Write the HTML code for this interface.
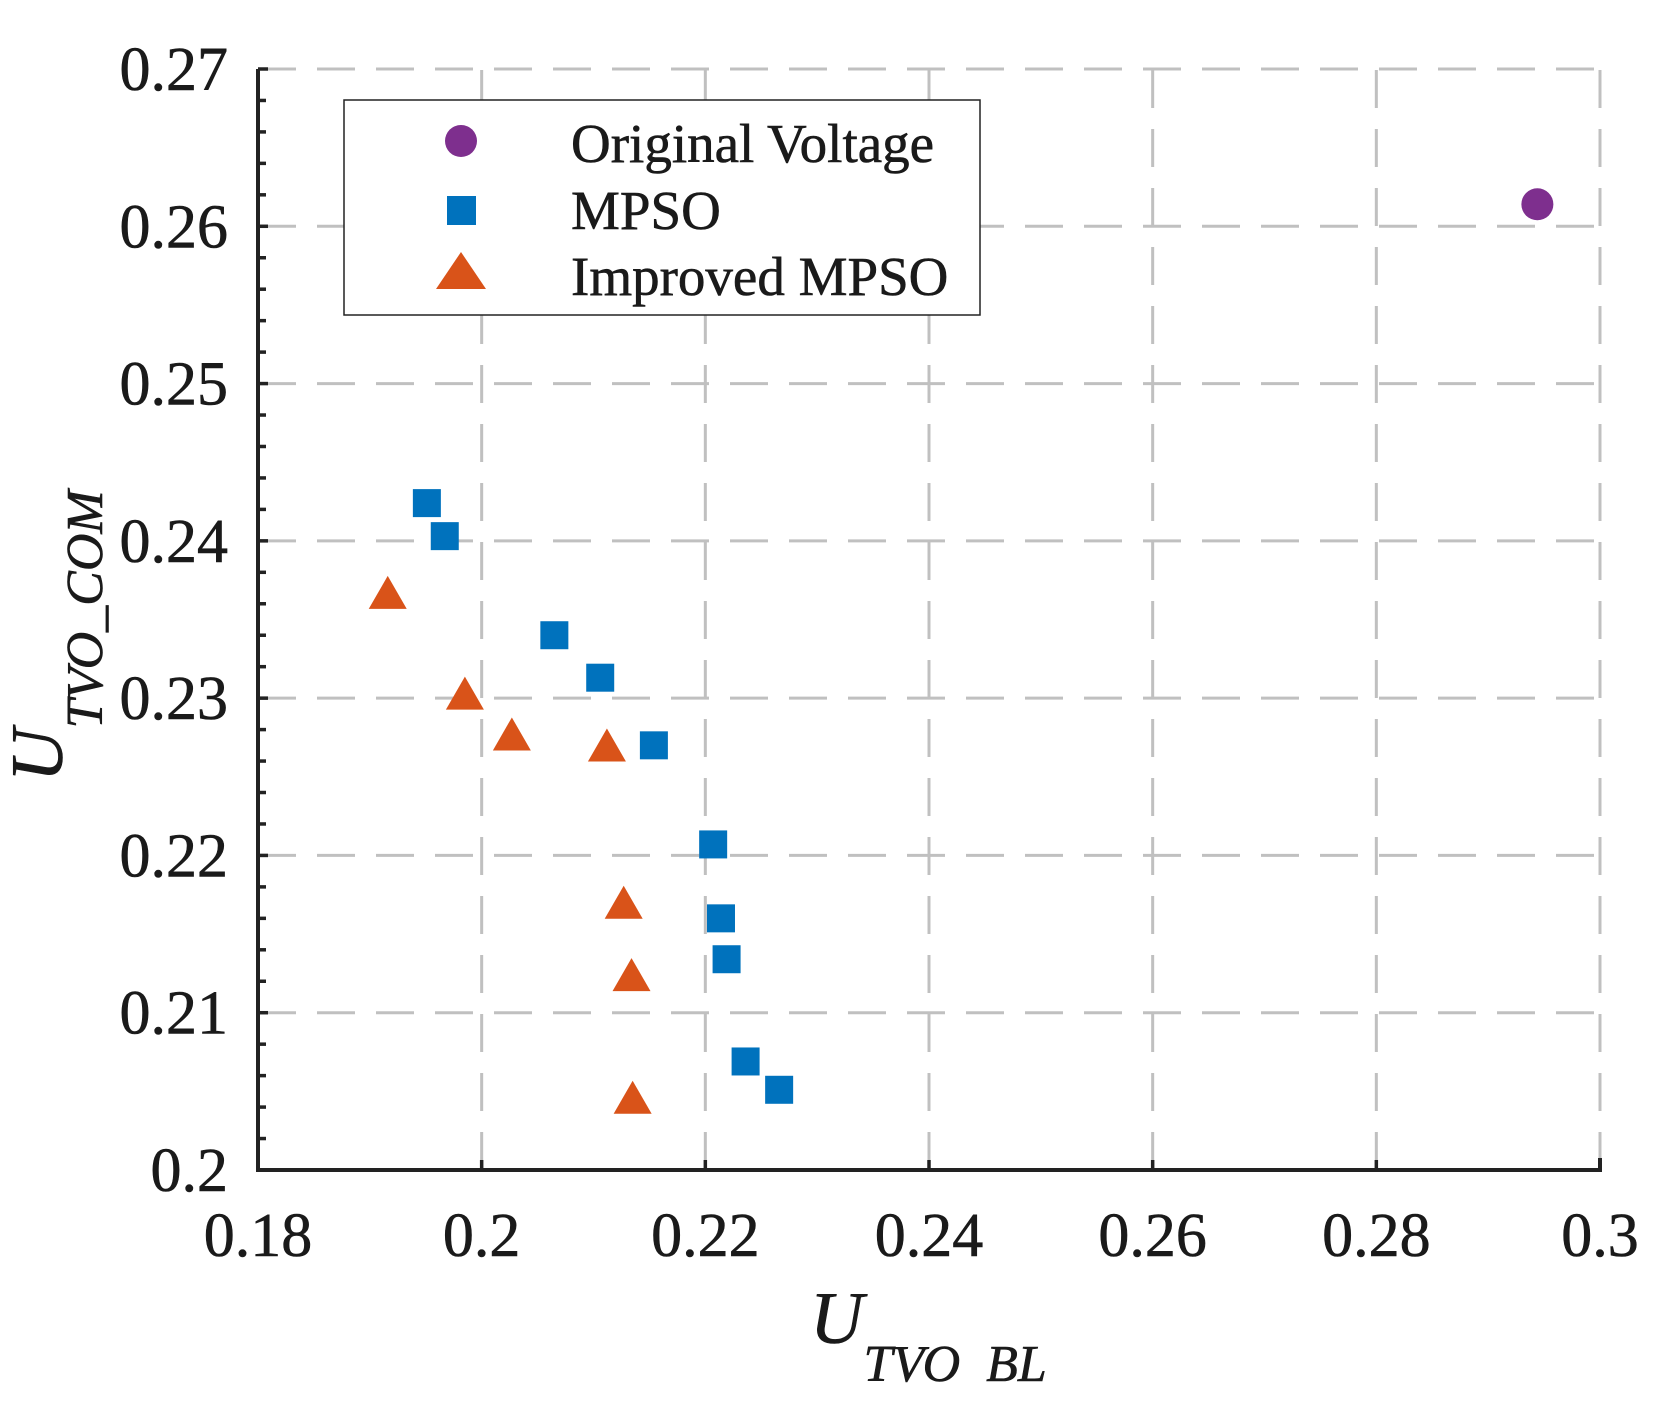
<!DOCTYPE html>
<html><head><meta charset="utf-8"><style>body{margin:0;background:#fff}svg{display:block}text{font-family:"Liberation Serif",serif;fill:#1a1a1a;stroke:#1a1a1a;stroke-width:0.6}</style></head>
<body>
<svg id="chart" width="1659" height="1401" viewBox="0 0 1659 1401">
<g id="grid"></g>
<g id="axes"></g>
<g id="marks"></g>
<text x="810" y="1343" font-size="74" font-style="italic">U<tspan font-size="52" dy="38">TVO<tspan fill="#fff" stroke="#fff">_</tspan>BL</tspan></text>
<text transform="translate(62,782) rotate(-90)" font-size="74" font-style="italic">U<tspan font-size="52" dy="40">TVO_COM</tspan></text>
<g>
<rect x="344" y="100" width="636" height="215" fill="#fff" stroke="#222" stroke-width="1.5"/>
<circle cx="461" cy="141" r="16" fill="#7e2f8e"/>
<text x="571" y="162" font-size="55">Original Voltage</text>
<rect x="447" y="196" width="29" height="29" fill="#0072bd"/>
<text x="571" y="229" font-size="55">MPSO</text>
<polygon points="461,252 436,289 486,289" fill="#d95319"/>
<text x="571" y="295" font-size="55">Improved MPSO</text>
</g>
</svg>
<script>
const xTicks=[0.18,0.2,0.22,0.24,0.26,0.28,0.3];
const xTickLabels=["0.18","0.2","0.22","0.24","0.26","0.28","0.3"];
const yTicks=[0.2,0.21,0.22,0.23,0.24,0.25,0.26,0.27];
const yTickLabels=["0.2","0.21","0.22","0.23","0.24","0.25","0.26","0.27"];
const origX=[0.2944];
const origY=[0.2614];
const mpsoX=[0.1951,0.1967,0.2065,0.2106,0.2154,0.2207,0.2214,0.2219,0.2236,0.2266];
const mpsoY=[0.2424,0.2403,0.2340,0.2313,0.2270,0.2207,0.2160,0.2134,0.2069,0.2051];
const impX=[0.1916,0.1985,0.2027,0.2112,0.2127,0.2134,0.2135];
const impY=[0.2365,0.2301,0.2275,0.2268,0.2168,0.2122,0.2044];
const L=258,R=1600,T=69,B=1170;
const sx=v=>L+(v-0.18)/(0.12)*(R-L);
const sy=v=>B-(v-0.2)/(0.07)*(B-T);
const NS="http://www.w3.org/2000/svg";
function mk(tag,attrs,parent){const e=document.createElementNS(NS,tag);for(const k in attrs)e.setAttribute(k,attrs[k]);parent.appendChild(e);return e;}
const grid=document.getElementById('grid'),axes=document.getElementById('axes'),marks=document.getElementById('marks');
xTicks.forEach((v,i)=>{
  if(i>0){const g=mk('line',{x1:sx(v),x2:sx(v),y1:B,y2:T,stroke:'#c0c0c0','stroke-width':3,'stroke-dasharray':'38,21'},grid);
  
  }
  const t=mk('line',{x1:sx(v),x2:sx(v),y1:B,y2:B-10,stroke:'#222','stroke-width':3.5},axes);
  
  
  const l=mk('text',{x:sx(v),y:B+86,'font-size':62,'text-anchor':'middle'},axes);l.textContent=xTickLabels[i];
  
  
});
yTicks.forEach((v,i)=>{
  if(i>0){const g=mk('line',{x1:L,x2:R,y1:sy(v),y2:sy(v),stroke:'#c0c0c0','stroke-width':3,'stroke-dasharray':'38,21'},grid);
  
  }
  const l=mk('text',{x:228,y:sy(v)+21,'font-size':62,'text-anchor':'end'},axes);l.textContent=yTickLabels[i];
  
  
});
for(let k=0;k<=35;k++){const v=0.2+k*0.002;
  const t=mk('line',{x1:L,x2:L+(k%5===0?10:8),y1:sy(v),y2:sy(v),stroke:'#222','stroke-width':3.5},axes);
  
  }
const ax=mk('path',{d:`M${L},${T} L${L},${B} L${R},${B} L${R},${B-12}`,fill:'none',stroke:'#222','stroke-width':4},axes);


origX.forEach((x,i)=>{const c=mk('circle',{cx:sx(x),cy:sy(origY[i]),r:16,fill:'#7e2f8e'},marks);
  
  });
mpsoX.forEach((x,i)=>{const c=mk('rect',{x:sx(x)-14,y:sy(mpsoY[i])-14,width:28,height:28,fill:'#0072bd'},marks);
  
  });
impX.forEach((x,i)=>{const cx=sx(x),cy=sy(impY[i]);
  const c=mk('polygon',{points:`${cx},${cy-20} ${cx-19},${cy+13} ${cx+19},${cy+13}`,fill:'#d95319'},marks);
  
  });
</script>
</body></html>
